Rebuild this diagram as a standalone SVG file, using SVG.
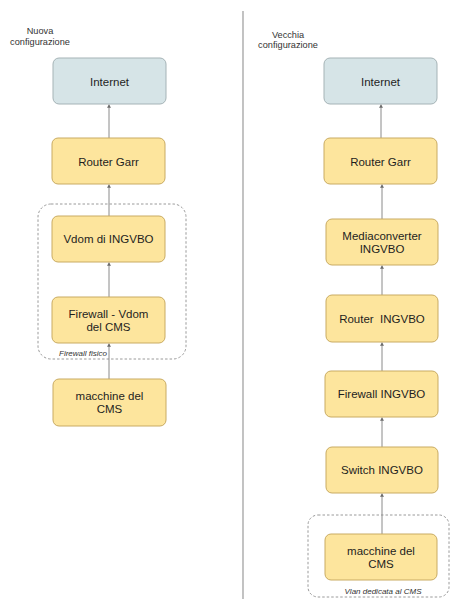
<svg xmlns="http://www.w3.org/2000/svg" width="451" height="599" viewBox="0 0 451 599">
<defs>
<marker id="ah" viewBox="0 0 8 10" refX="8" refY="5" markerWidth="5" markerHeight="4" orient="auto" markerUnits="userSpaceOnUse">
<path d="M0,0 L8,5 L0,10 z" fill="#6b6b6b"/>
</marker>
</defs>
<style>
text{font-family:"Liberation Sans",Arial,sans-serif;fill:#1e1e1e}
.node{fill:#fde59d;stroke:#c9ab62;stroke-width:1}
.cloud{fill:#d6e4e7;stroke:#a5b3b6;stroke-width:1}
.lbl{font-size:11.5px;text-anchor:middle}
.hdr{font-size:9.2px;text-anchor:middle;fill:#333}
.grp{fill:none;stroke:#9a9a9a;stroke-width:1;stroke-dasharray:2.5,2}
.glbl{font-size:8px;font-style:italic;fill:#333}
.conn line{stroke:#8a8a8a;stroke-width:1;marker-end:url(#ah)}
</style>
<rect width="451" height="599" fill="#ffffff"/>
<line x1="243" y1="11" x2="243" y2="599" stroke="#9a9a9a" stroke-width="1.2"/>
<text class="hdr" x="40" y="34">Nuova</text>
<text class="hdr" x="40" y="44.5">configurazione</text>
<text class="hdr" x="288" y="37.5">Vecchia</text>
<text class="hdr" x="288" y="48">configurazione</text>
<g id="grp-firewall-fisico">
<rect class="grp" x="38" y="204" width="148" height="155" rx="13"/>
<text class="glbl" x="59" y="356">Firewall fisico</text>
</g>
<g id="grp-vlan">
<rect class="grp" x="308" y="515" width="141" height="82" rx="10"/>
<text class="glbl" x="383" y="594" text-anchor="middle">Vlan dedicata al CMS</text>
</g>
<g class="conn" id="connectors">
<line x1="109" y1="138" x2="109" y2="104.5"/>
<line x1="109" y1="216" x2="109" y2="184.5"/>
<line x1="109" y1="297" x2="109" y2="262.5"/>
<line x1="109" y1="379" x2="109" y2="343.5"/>
<line x1="381" y1="138" x2="381" y2="104.5"/>
<line x1="382" y1="219" x2="382" y2="184.5"/>
<line x1="382" y1="295" x2="382" y2="265.5"/>
<line x1="382" y1="371" x2="382" y2="342.5"/>
<line x1="382" y1="447" x2="382" y2="417.5"/>
<line x1="382" y1="534" x2="382" y2="493.5"/>
</g>
<g id="l-internet"><rect class="cloud" x="53" y="58" width="113" height="46" rx="6"/><text class="lbl" x="109.5" y="85.5">Internet</text></g>
<g id="l-router-garr"><rect class="node" x="52" y="138" width="113" height="46" rx="6"/><text class="lbl" x="108.5" y="165.5">Router Garr</text></g>
<g id="l-vdom"><rect class="node" x="52" y="216" width="113" height="46" rx="6"/><text class="lbl" x="108.5" y="243">Vdom di INGVBO</text></g>
<g id="l-firewall-vdom"><rect class="node" x="52" y="297" width="113" height="46" rx="6"/><text class="lbl" x="108.5" y="317.5">Firewall - Vdom</text><text class="lbl" x="108.5" y="330.5">del CMS</text></g>
<g id="l-macchine"><rect class="node" x="53" y="379" width="113" height="47" rx="6"/><text class="lbl" x="109.5" y="400">macchine del</text><text class="lbl" x="109.5" y="413">CMS</text></g>
<g id="r-internet"><rect class="cloud" x="324" y="58" width="113" height="46" rx="6"/><text class="lbl" x="380.5" y="85.5">Internet</text></g>
<g id="r-router-garr"><rect class="node" x="324" y="138" width="113" height="46" rx="6"/><text class="lbl" x="380.5" y="165.5">Router Garr</text></g>
<g id="r-mediaconverter"><rect class="node" x="326" y="219" width="112" height="46" rx="6"/><text class="lbl" x="382" y="239.5">Mediaconverter</text><text class="lbl" x="382" y="252.5">INGVBO</text></g>
<g id="r-router-ingvbo"><rect class="node" x="326" y="295" width="112" height="47" rx="6"/><text class="lbl" x="382" y="322.5" style="white-space:pre">Router  INGVBO</text></g>
<g id="r-firewall"><rect class="node" x="325" y="371" width="113" height="46" rx="6"/><text class="lbl" x="381.5" y="398">Firewall INGVBO</text></g>
<g id="r-switch"><rect class="node" x="326" y="447" width="112" height="46" rx="6"/><text class="lbl" x="382" y="474">Switch INGVBO</text></g>
<g id="r-macchine"><rect class="node" x="325" y="534" width="112" height="46" rx="6"/><text class="lbl" x="381" y="554.5">macchine del</text><text class="lbl" x="381" y="567.5">CMS</text></g>
</svg>
